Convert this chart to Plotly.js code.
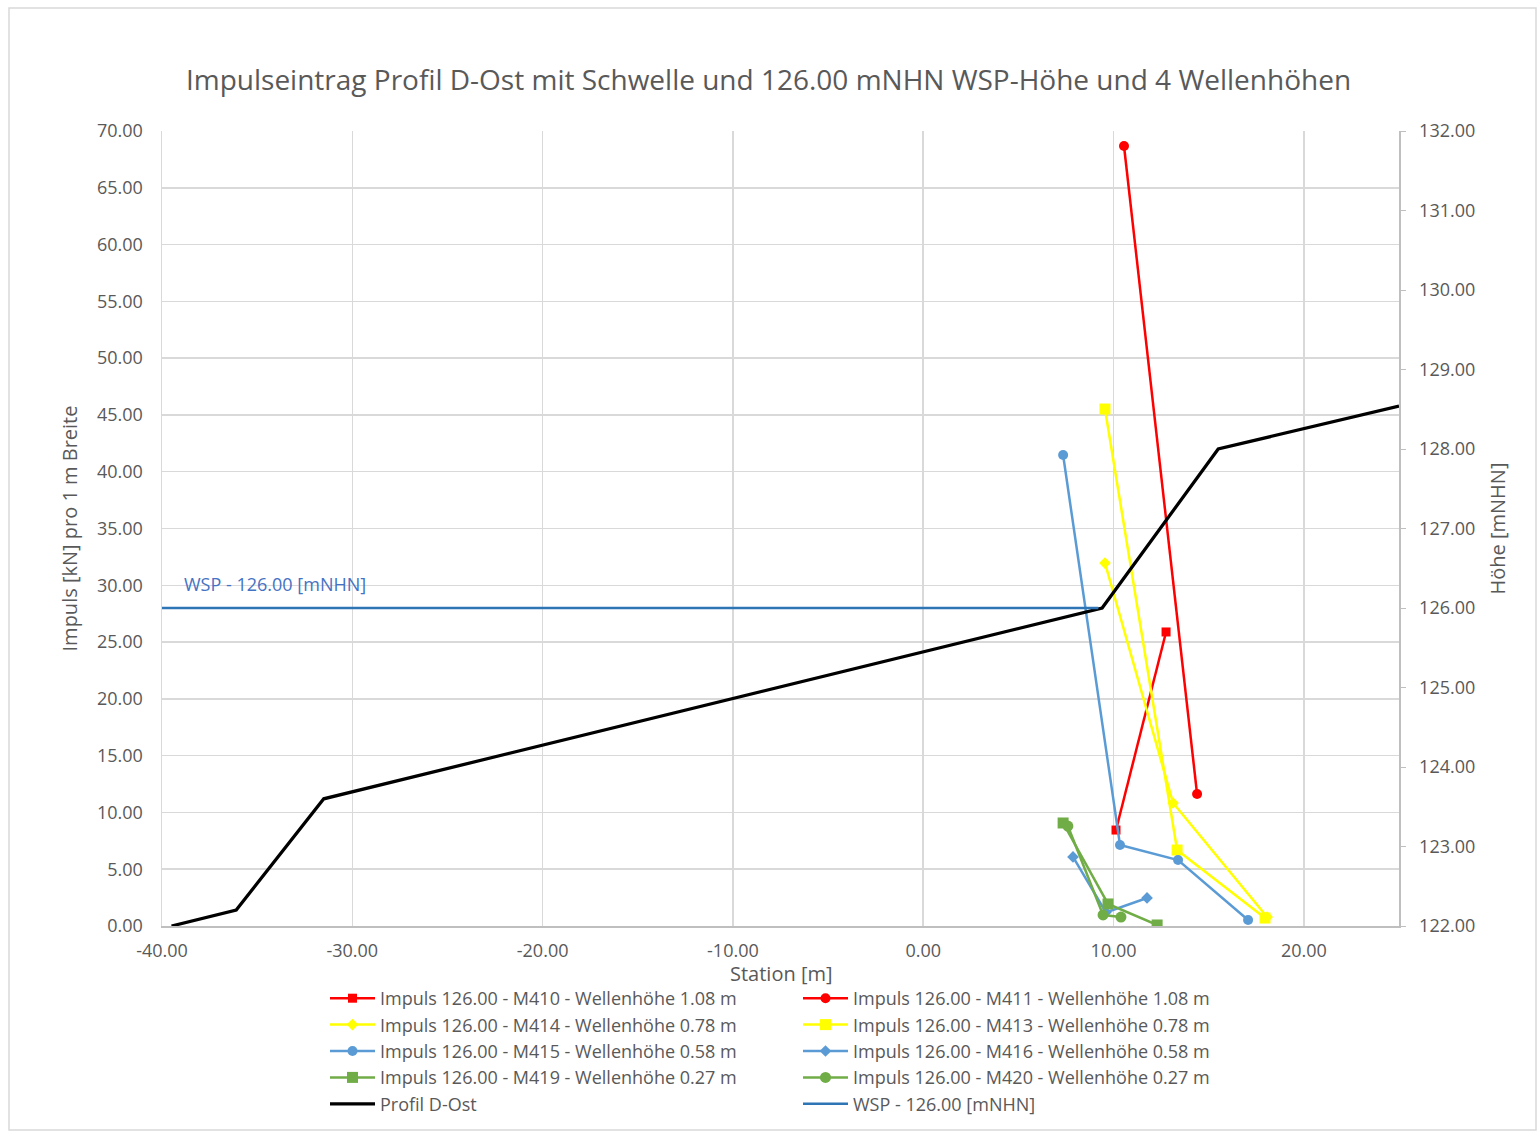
<!DOCTYPE html>
<html>
<head>
<meta charset="utf-8">
<script src="https://cdn.plot.ly/plotly-3.0.1.min.js"></script>
<style>html,body{margin:0;padding:0;background:#fff;}#chart{width:1537px;height:1131px;}</style>
</head>
<body>
<div id="chart"></div>
<script>
// ---- data ----
const m410_x = [10.13, 12.76];
const m410_y = [8.45, 25.89];
const m411_x = [10.55, 14.39];
const m411_y = [68.68, 11.62];
const m414_x = [9.55, 13.13, 18.07];
const m414_y = [31.96, 10.83, 0.79];
const m413_x = [9.55, 13.34, 17.96];
const m413_y = [45.52, 6.69, 0.70];
const m415_x = [7.35, 10.34, 13.39, 17.07];
const m415_y = [41.47, 7.13, 5.81, 0.53];
const m416_x = [7.87, 9.6, 11.76];
const m416_y = [6.08, 1.2, 2.47];
const m419_x = [7.35, 9.71, 12.29];
const m419_y = [9.07, 1.94, 0.09];
const m420_x = [7.6, 9.45, 10.39];
const m420_y = [8.8, 0.97, 0.79];
const prof_x = [-39.5, -36.1, -31.5, 9.4, 15.5, 25.0];
const prof_y = [122.0, 122.2, 123.6, 126.0, 128.0, 128.54];
const wsp_x = [-40, 9.2];
const wsp_level = 126.0;
const wsp_y = wsp_x.map(() => wsp_level);

// x-axis tick values / labels (Excel style, hyphen minus)
const x_ticks = [-40, -30, -20, -10, 0, 10, 20];
const x_ticklabels = x_ticks.map(v => v.toFixed(2));

const names = {
  m410: "Impuls 126.00 - M410 - Wellenhöhe 1.08 m",
  m411: "Impuls 126.00 - M411 - Wellenhöhe 1.08 m",
  m414: "Impuls 126.00 - M414 - Wellenhöhe 0.78 m",
  m413: "Impuls 126.00 - M413 - Wellenhöhe 0.78 m",
  m415: "Impuls 126.00 - M415 - Wellenhöhe 0.58 m",
  m416: "Impuls 126.00 - M416 - Wellenhöhe 0.58 m",
  m419: "Impuls 126.00 - M419 - Wellenhöhe 0.27 m",
  m420: "Impuls 126.00 - M420 - Wellenhöhe 0.27 m",
  prof: "Profil D-Ost",
  wsp: "WSP - 126.00 [mNHN]"
};

const RED = "#FF0000", YEL = "#FFFF00", BLU = "#5B9BD5", GRN = "#70AD47";
const gray = "#595959";

function ser(x, y, name, color, symbol, size, rank) {
  return {x: x, y: y, name: name, type: "scatter", mode: "lines+markers",
    line: {color: color, width: 2.5},
    marker: {color: color, symbol: symbol, size: size},
    legendrank: rank, yaxis: "y", xaxis: "x"};
}

const data = [
  {x: prof_x, y: prof_y, name: names.prof, type: "scatter", mode: "lines",
   line: {color: "#000000", width: 3.25}, yaxis: "y2", legendrank: 9},
  {x: wsp_x, y: wsp_y, name: names.wsp, type: "scatter", mode: "lines",
   line: {color: "#2E75B6", width: 2.5}, yaxis: "y2", legendrank: 10},
  ser(m410_x, m410_y, names.m410, RED, "square", 9, 1),
  ser(m411_x, m411_y, names.m411, RED, "circle", 10, 2),
  ser(m414_x, m414_y, names.m414, YEL, "diamond", 9, 3),
  ser(m413_x, m413_y, names.m413, YEL, "square", 11, 4),
  ser(m415_x, m415_y, names.m415, BLU, "circle", 10, 5),
  ser(m416_x, m416_y, names.m416, BLU, "diamond", 9, 6),
  ser(m419_x, m419_y, names.m419, GRN, "square", 11, 7),
  ser(m420_x, m420_y, names.m420, GRN, "circle", 11, 8)
];

const W = 1537, H = 1131;
const L = 162, R = 138, T = 131, B = 205;
const pw = W - L - R, ph = H - T - B;

const layout = {
  width: W, height: H,
  margin: {l: L, r: R, t: T, b: B, autoexpand: false},
  paper_bgcolor: "#ffffff", plot_bgcolor: "#ffffff",
  font: {family: "Open Sans, sans-serif", color: gray, size: 18},
  title: {text: "Impulseintrag Profil D-Ost mit Schwelle und 126.00 mNHN WSP-Höhe und 4 Wellenhöhen",
    font: {size: 28, color: gray, family: "Open Sans, sans-serif"},
    x: 0.5, xanchor: "center", y: 1 - 80 / H, yanchor: "middle", yref: "container"},
  xaxis: {range: [-40, 25], tickmode: "array", tickvals: x_ticks, ticktext: x_ticklabels,
    showgrid: true, gridcolor: "#D9D9D9", gridwidth: 1.5, zeroline: false,
    showline: true, linecolor: "#BFBFBF", linewidth: 1.5, automargin: false,
    ticks: "", ticklabelstandoff: 8, tickfont: {size: 18, color: gray}},
  yaxis: {range: [0, 70], dtick: 5, tickformat: ".2f", automargin: false,
    showgrid: true, gridcolor: "#D9D9D9", gridwidth: 1.5, zeroline: false,
    showline: true, linecolor: "#D9D9D9", linewidth: 1.5,
    ticks: "", ticklabelstandoff: 14, tickfont: {size: 18, color: gray},
    title: {text: "Impuls [kN] pro 1 m Breite", font: {size: 20, color: gray}, standoff: 14}},
  yaxis2: {range: [122, 132], dtick: 1, tickformat: ".2f", overlaying: "y", side: "right",
    automargin: false,
    showgrid: false, zeroline: false, showline: true, linecolor: "#BFBFBF", linewidth: 1.5,
    ticks: "outside", ticklen: 5, tickcolor: "#BFBFBF", ticklabelstandoff: 10,
    tickfont: {size: 18, color: gray},
    title: {text: "Höhe [mNHN]", font: {size: 20, color: gray}, standoff: 16}},
  showlegend: true,
  legend: {orientation: "h", x: (325 - L) / pw, xanchor: "left",
    y: -(980 - (H - B)) / ph, yanchor: "top",
    entrywidth: 413, entrywidthmode: "pixels", itemwidth: 45,
    font: {size: 18, color: gray}, bgcolor: "rgba(0,0,0,0)", traceorder: "normal"},
  annotations: [
    {x: wsp_x[0], y: wsp_level, xref: "x", yref: "y2", text: names.wsp,
     showarrow: false, xanchor: "left", yanchor: "middle", xshift: 20, yshift: 24,
     font: {size: 18, color: "#4472C4"}},
    {x: 0.5, y: -(973 - (H - B)) / ph, xref: "paper", yref: "paper", text: "Station [m]",
     showarrow: false, xanchor: "center", yanchor: "middle",
     font: {size: 20, color: gray}}
  ],
  shapes: [{type: "rect", xref: "paper", yref: "paper",
    x0: (9 - L) / pw, x1: (1536 - L) / pw, y0: -(1130 - (H - B)) / ph, y1: 1 + (T - 8) / ph,
    line: {color: "#D9D9D9", width: 1.5}, fillcolor: "rgba(0,0,0,0)", layer: "below"}]
};

Plotly.newPlot("chart", data, layout, {displayModeBar: false, staticPlot: true});
</script>
</body>
</html>
